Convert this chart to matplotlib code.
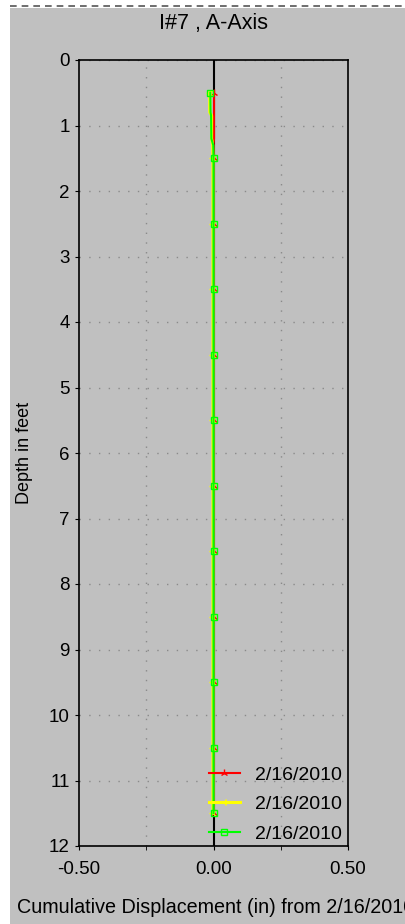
import matplotlib
matplotlib.use("Agg")
import matplotlib.pyplot as plt
from matplotlib.lines import Line2D
from matplotlib.patches import Rectangle

plt.rcParams['font.family'] = ['Liberation Sans', 'DejaVu Sans']

# depth readings (feet) and cumulative displacement (in) for the three surveys
depth = [0.5, 0.8, 0.85, 1.2, 1.3, 1.5, 2.5, 3.5, 4.5, 5.5, 6.5, 7.5, 8.5, 9.5, 10.5, 11.5]
red_disp = [0.002, 0.002, 0.002, 0.002, 0.0, 0.0, 0.0, 0.0, 0.0, 0.0, 0.0, 0.0, 0.0,
            0.0, 0.0, 0.0]
yellow_disp = [-0.014, -0.014, -0.007, -0.007, -0.003, -0.002, -0.002, -0.002, -0.002,
               -0.002, -0.002, -0.002, -0.002, -0.002, -0.002, -0.002]
green_disp = [-0.012, -0.011, -0.009, -0.008, -0.001, 0.0, 0.0, 0.0, 0.0, 0.0, 0.0, 0.0,
              0.0, 0.0, 0.0, 0.0]
labels = ['2/16/2010', '2/16/2010', '2/16/2010']
marker_idx = [0, 5, 6, 7, 8, 9, 10, 11, 12, 13, 14, 15]

gray = '#c0c0c0'
fig = plt.figure(figsize=(4.06, 9.24), dpi=100, facecolor=gray)

# white margins with dashed top border
fig.add_artist(Rectangle((0, 0), 10 / 406, 1, transform=fig.transFigure,
                         facecolor='white', edgecolor='none', zorder=-10))
fig.add_artist(Rectangle((0, 1 - 8 / 924), 1, 8 / 924, transform=fig.transFigure,
                         facecolor='white', edgecolor='none', zorder=-10))
fig.add_artist(Line2D([10 / 406, 1], [1 - 6 / 924, 1 - 6 / 924], transform=fig.transFigure,
                      color='#555555', linestyle=(0, (4, 3)), linewidth=1.2, zorder=-9))

ax = fig.add_axes([79 / 406, 1 - 846 / 924, (348 - 79) / 406, (846 - 60) / 924])
ax.set_facecolor(gray)

ax.set_xlim(-0.5, 0.5)
ax.set_ylim(12, 0)
ax.set_xticks([-0.5, 0.0, 0.5])
ax.set_xticklabels(['-0.50', '0.00', '0.50'])
ax.set_xticks([-0.25, 0.25], minor=True)
ax.set_yticks(range(0, 13))
ax.tick_params(axis='both', which='both', direction='out', length=3, labelsize=13.5)
ax.tick_params(axis='x', pad=8)
ax.xaxis.grid(True, which='minor', color='#8a8a8a', linestyle=(0, (1, 6)), linewidth=1)
ax.yaxis.grid(True, which='major', color='#8a8a8a', linestyle=(0, (1, 6)), linewidth=1)
for s in ax.spines.values():
    s.set_linewidth(1.2)

ax.axvline(0, color='black', linewidth=1.5, zorder=1.8)

ax.plot(red_disp, depth, color='red', linewidth=1.5, marker='2', markersize=6,
        markevery=marker_idx, label=labels[0], zorder=2)
ax.plot(yellow_disp, depth, color='yellow', linewidth=2.2, marker='3', markersize=6,
        markevery=marker_idx, label=labels[1], zorder=3)
ax.plot(green_disp, depth, color='#00ff00', linewidth=1.5, marker='s', markersize=4,
        fillstyle='none', markevery=marker_idx, label=labels[2], zorder=4)

ax.set_title('I#7 , A-Axis', fontsize=15.5, pad=22)
ax.set_xlabel('Cumulative Displacement (in) from 2/16/2010', fontsize=14.2, loc='left')
ax.xaxis.set_label_coords(-0.23, -0.066)
ax.set_ylabel('Depth in feet', fontsize=13)
ax.yaxis.set_label_coords(-0.17, 0.5)

ax.legend(loc='lower right', bbox_to_anchor=(1.008, -0.006), frameon=False, fontsize=14,
          handlelength=1.6, borderaxespad=0, labelspacing=0.62)

fig.savefig('out.png', dpi=100, facecolor=gray)
